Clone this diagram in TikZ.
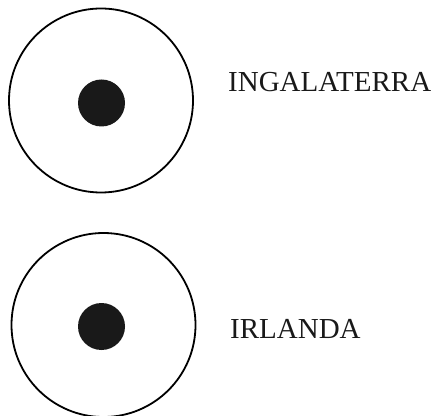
\documentclass[tikz,border=0pt]{standalone}
\usepackage{fontspec}
\setmainfont{Liberation Serif}
\usetikzlibrary{positioning}

\begin{document}
\begin{tikzpicture}[x=1pt,y=1pt,
  ring/.style={draw,circle,line width=1.8pt,minimum size=184pt,inner sep=0pt},
  dot/.style={fill=black!90,circle,minimum size=47pt,inner sep=0pt},
  lab/.style={font=\fontsize{29}{31}\selectfont,text=black!90,inner sep=0pt,anchor=base west}]
\useasboundingbox (0,0) rectangle (433,415);
\node[ring] (r1) at (101,314.5) {};
\node[dot] (d1) at (101.5,312) {};
\node[lab] (l1) at (228,323) {INGALATERRA};
\node[ring] (r2) at (103.5,90) {};
\node[dot] (d2) at (101.5,88.5) {};
\node[lab] (l2) at (230,77) {IRLANDA};
\end{tikzpicture}
\end{document}
